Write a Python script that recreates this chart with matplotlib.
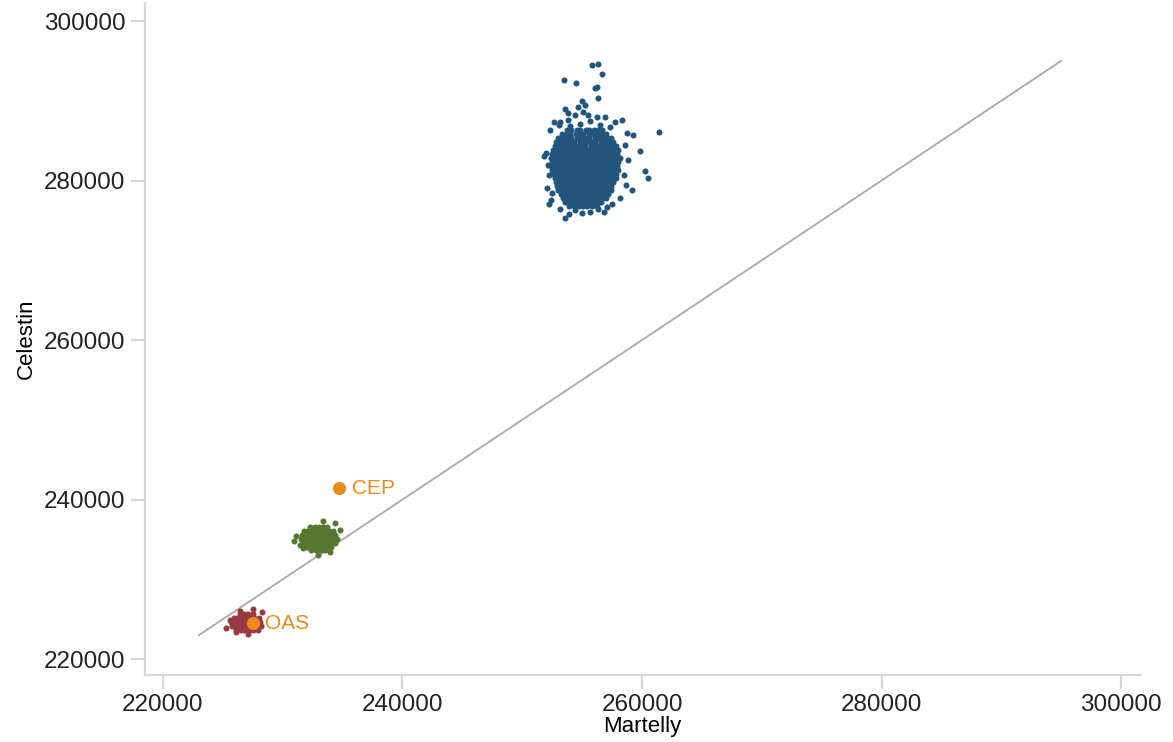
import matplotlib.pyplot as plt

# Celestin vs Martelly vote counts, simulated clouds + official results

blue_rows = [
    (286300, [253700, 254100, 254600, 254800, 255300, 255600, 256000, 256300, 256700]),
    (285800, [253300, 253700, 254000, 254500, 254800, 255100, 255600, 255900, 256200, 256700, 257000]),
    (285300, [253000, 253400, 253800, 254100, 254600, 254900, 255200, 255600, 256100, 256300, 256700, 257100, 257400]),
    (284800, [252800, 253200, 253600, 253900, 254300, 254800, 255000, 255400, 255800, 256100, 256600, 256900, 257200, 257600]),
    (284300, [252700, 253000, 253400, 253800, 254100, 254500, 254900, 255200, 255700, 256000, 256300, 256700, 257100, 257500, 257800]),
    (283800, [252600, 252900, 253300, 253700, 254000, 254400, 254800, 255100, 255500, 255900, 256200, 256600, 257000, 257300, 257700, 258000]),
    (283300, [252500, 252800, 253200, 253500, 253900, 254300, 254600, 255000, 255400, 255700, 256100, 256500, 256800, 257200, 257600, 257900]),
    (282800, [252400, 252700, 253100, 253500, 253800, 254200, 254600, 254900, 255300, 255700, 256000, 256400, 256800, 257100, 257500, 257900, 258200]),
    (282300, [252500, 252900, 253300, 253600, 254000, 254400, 254700, 255100, 255500, 255800, 256200, 256600, 256900, 257300, 257700, 258000]),
    (281800, [252400, 252800, 253100, 253500, 253900, 254200, 254600, 255000, 255300, 255700, 256100, 256400, 256800, 257200, 257500, 257900]),
    (281300, [252500, 252900, 253300, 253700, 254000, 254400, 254800, 255100, 255500, 255900, 256200, 256600, 257000, 257300, 257700, 258000]),
    (280800, [252600, 253000, 253400, 253800, 254100, 254500, 254900, 255200, 255600, 256000, 256300, 256700, 257100, 257400, 257800]),
    (280300, [252700, 253100, 253500, 253800, 254200, 254600, 254900, 255300, 255700, 256000, 256400, 256800, 257100, 257500, 257800]),
    (279800, [252800, 253200, 253600, 254000, 254300, 254700, 255100, 255400, 255800, 256200, 256500, 256900, 257300, 257600]),
    (279300, [252900, 253300, 253700, 254100, 254400, 254800, 255200, 255500, 255900, 256300, 256600, 257000, 257400]),
    (278800, [253000, 253400, 253800, 254200, 254500, 254900, 255300, 255600, 256000, 256400, 256700, 257100, 257400]),
    (278300, [253200, 253600, 254000, 254300, 254700, 255100, 255400, 255800, 256200, 256500, 256900, 257200]),
    (277800, [253400, 253800, 254200, 254500, 254900, 255300, 255600, 256000, 256400, 256700, 257000]),
    (277300, [253600, 254000, 254400, 254800, 255100, 255500, 255900, 256200, 256600]),
    (276800, [253900, 254300, 254700, 255100, 255400, 255800, 256200]),
]
# scattered points round the blue cloud
blue_extra = [
    (255800, 294500), (256320, 294600), (256650, 293350), (253500, 292600),
    (254490, 292230), (256070, 291600), (256240, 291730), (256320, 290350),
    (254990, 289970), (253570, 288970), (261400, 286100), (258330, 287600),
    (257740, 287340), (258740, 285960), (259245, 285710), (252300, 286340),
    (252650, 287340), (253070, 286960), (251800, 283080), (259830, 283700),
    (260250, 281200), (260500, 280320), (259160, 278810), (252230, 277060),
    (253900, 275800), (254990, 275930), (256320, 276430), (257070, 276680),
    (252400, 277550), (252060, 279060), (255240, 289470), (254650, 289220),
    (253820, 288470), (254400, 288220), (255070, 288600), (255490, 288220),
    (256240, 287970), (256900, 287970), (253820, 287600), (253150, 287350),
    (255650, 287470), (254820, 287100), (256490, 286960), (257320, 286710),
    (253980, 286840), (258580, 284450), (258830, 282570), (258500, 280690),
    (258660, 279440), (258160, 277810), (257490, 277060), (252150, 281950),
    (252230, 280690), (251980, 283450), (252480, 278430), (254400, 276300),
    (255650, 276050), (253150, 276430), (256820, 276050), (253570, 275240),
]

green_rows = [
    (236600, [232300, 232700, 233000, 233400, 233700]),
    (236100, [231800, 232100, 232500, 232800, 233200, 233500, 233900, 234200]),
    (235600, [231600, 231900, 232300, 232600, 233000, 233300, 233700, 234000, 234400]),
    (235100, [231500, 231800, 232200, 232500, 232900, 233200, 233600, 233900, 234300, 234500]),
    (234600, [231700, 232000, 232400, 232700, 233100, 233400, 233800, 234100, 234400]),
    (234100, [232000, 232300, 232700, 233000, 233400, 233700, 234000]),
    (233700, [232400, 232800, 233200, 233500]),
]
green_extra = [
    (230940, 234800), (231440, 234300), (231690, 233920), (231110, 235420),
    (234360, 237050), (233360, 237300), (234780, 236180), (232940, 233040),
    (233940, 233420),
]

red_rows = [
    (225600, [226400, 226800, 227100, 227500]),
    (225100, [225900, 226200, 226600, 226900, 227300, 227600, 228000]),
    (224600, [225700, 226000, 226400, 226700, 227100, 227400, 227800, 228100]),
    (224100, [225800, 226100, 226500, 226800, 227200, 227500, 227900, 228200]),
    (223600, [226100, 226500, 226800, 227200, 227500, 227900]),
]
red_extra = [
    (225260, 223890), (225590, 224890), (226430, 226020), (227520, 226270),
    (228270, 225890), (227100, 223140), (226100, 223390),
]

# official results
off_names = ["CEP", "OAS"]
off_x = [234700, 227500]
off_y = [241440, 224500]

diag = [223000, 295000]


def unpack(rows, extra):
    xs, ys = [], []
    for y, row in rows:
        xs += row
        ys += [y] * len(row)
    for x, y in extra:
        xs.append(x)
        ys.append(y)
    return xs, ys


fig = plt.figure(figsize=(11.73, 7.42), dpi=100)
ax = fig.add_axes([145 / 1173, 67 / 742, 995 / 1173, 672 / 742])

ax.plot(diag, diag, color="#a8a8a8", lw=1.3, zorder=1)

bx, by = unpack(blue_rows, blue_extra)
gx, gy = unpack(green_rows, green_extra)
rx, ry = unpack(red_rows, red_extra)
ax.scatter(bx, by, s=19, color="#22557d", linewidths=0, zorder=2)
ax.scatter(gx, gy, s=19, color="#55772f", linewidths=0, zorder=2)
ax.scatter(rx, ry, s=19, color="#993a42", linewidths=0, zorder=2)

orange = "#e98b1e"
ax.scatter(off_x, off_y, s=90, color=orange, linewidths=0, zorder=3)
for name, x, y in zip(off_names, off_x, off_y):
    ax.annotate(name, (x, y), xytext=(9, 0), textcoords="offset points",
                va="center", ha="left", color=orange, fontsize=15,
                family="Liberation Sans", zorder=4)

ax.set_xlim(218500, 301580)
ax.set_ylim(218000, 302260)
ax.set_xticks([220000, 240000, 260000, 280000, 300000])
ax.set_yticks([220000, 240000, 260000, 280000, 300000])
ax.ticklabel_format(style="plain", useOffset=False)

for s in ["top", "right"]:
    ax.spines[s].set_visible(False)
for s in ["left", "bottom"]:
    ax.spines[s].set_color("#d6d6d6")
    ax.spines[s].set_linewidth(1.6)
ax.tick_params(length=10, width=1.6, color="#d6d6d6", labelsize=17.5,
               labelcolor="#222222", pad=4)
for lab in ax.get_xticklabels() + ax.get_yticklabels():
    lab.set_family("Liberation Sans")

ax.set_xlabel("Martelly", fontsize=16, family="Liberation Sans", labelpad=0)
ax.set_ylabel("Celestin", fontsize=16, family="Liberation Sans", labelpad=5)

fig.savefig("out.png", dpi=100)
